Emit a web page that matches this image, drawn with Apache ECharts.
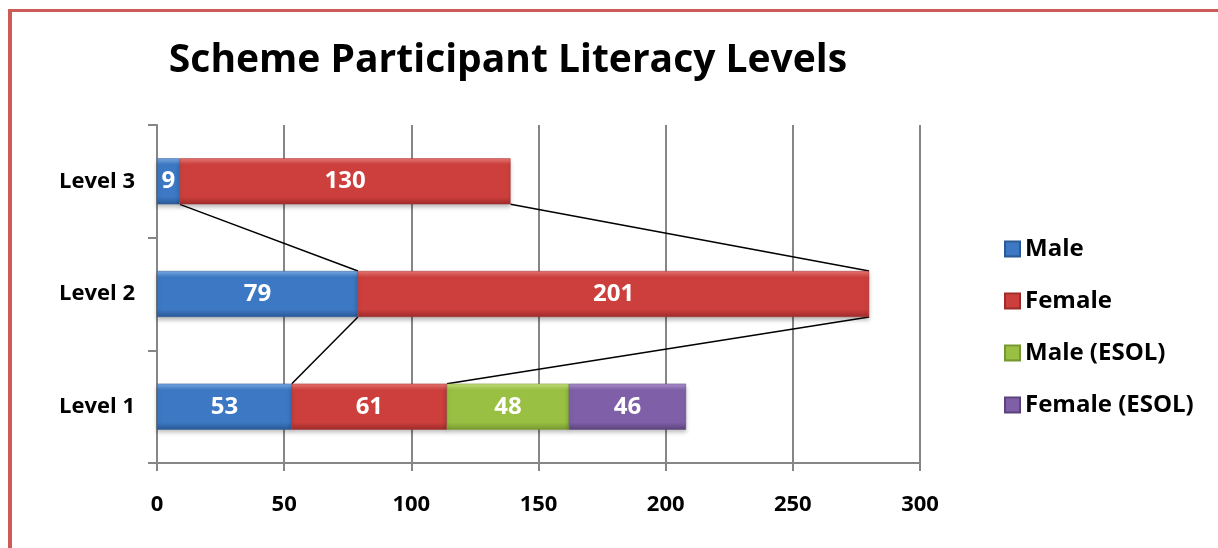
<!DOCTYPE html>
<html>
<head>
<meta charset="utf-8">
<script src="https://cdn.jsdelivr.net/npm/echarts@6/dist/echarts.min.js"></script>
<style>
  html, body { margin: 0; padding: 0; background: #fff; }
  #chart { width: 1218px; height: 548px; }
</style>
</head>
<body>
<div id="chart"></div>
<script>
// Participant counts by literacy level (bottom to top on the axis)
const categories = ['Level 1', 'Level 2', 'Level 3'];
const seriesNames = ['Male', 'Female', 'Male (ESOL)', 'Female (ESOL)'];
const male = [53, 79, 9];
const female = [61, 201, 130];
const maleEsol = [48, null, null];
const femaleEsol = [46, null, null];
const xTicks = [0, 50, 100, 150, 200, 250, 300];

const values = [male, female, maleEsol, femaleEsol];
const palette = [
  ['#79abe6', '#3c78c3', '#2a5996'],
  ['#ea7774', '#cc3f3c', '#9e2c2a'],
  ['#c6e27e', '#99c043', '#769830'],
  ['#ad92d0', '#7f60a8', '#5c437b']
];

function bevel(c) {
  return new echarts.graphic.LinearGradient(0, 0, 0, 1, [
    { offset: 0, color: c[0] },
    { offset: 0.14, color: c[1] },
    { offset: 0.84, color: c[1] },
    { offset: 1, color: c[2] }
  ]);
}

// Series lines: join the end of each stacked segment between neighbouring levels
const joinLines = [];
for (let i = 0; i < categories.length - 1; i++) {
  let lo = 0, hi = 0;
  for (let s = 0; s < values.length; s++) {
    const a = values[s][i], b = values[s][i + 1];
    if (a != null) lo += a;
    if (b != null) hi += b;
    if (a != null && b != null) joinLines.push([lo, i, hi, i + 1]);
  }
}

const BAR_W = 46;
const FONT = '"Open Sans", "Noto Sans", sans-serif';

const barSeries = seriesNames.map((name, s) => ({
  name: name,
  type: 'bar',
  stack: 'total',
  barWidth: BAR_W,
  data: values[s],
  itemStyle: {
    color: bevel(palette[s]),
    borderColor: palette[s][2],
    borderWidth: 0.5,
    shadowColor: 'rgba(0,0,0,0.25)',
    shadowBlur: 4,
    shadowOffsetY: 3
  },
  label: {
    show: true,
    position: 'inside',
    color: '#ffffff',
    fontFamily: FONT,
    fontWeight: 'bold',
    fontSize: 24
  },
  z: 3
}));

const chart = echarts.init(document.getElementById('chart'));
chart.setOption({
  animation: false,
  backgroundColor: '#ffffff',
  title: {
    text: 'Scheme Participant Literacy Levels',
    left: 503,
    textAlign: 'center',
    top: 36,
    textStyle: { fontFamily: FONT, fontWeight: 'bold', fontSize: 39, color: '#000' }
  },
  graphic: [
    { type: 'rect', left: 8, top: 9, shape: { width: 4, height: 539 }, style: { fill: '#cd5b58' } },
    { type: 'rect', left: 8, top: 9, shape: { width: 1210, height: 3 }, style: { fill: '#cd5b58' } }
  ],
  legend: {
    orient: 'vertical',
    left: 999,
    top: 232,
    itemWidth: 15,
    itemHeight: 15,
    itemGap: 28,
    icon: 'rect',
    textStyle: { fontFamily: FONT, fontWeight: 'bold', fontSize: 24, color: '#000' },
    data: seriesNames
  },
  grid: { left: 157, right: 298, top: 125, bottom: 85, containLabel: false },
  xAxis: {
    type: 'value',
    min: xTicks[0],
    max: xTicks[xTicks.length - 1],
    interval: 50,
    axisLine: { show: true, lineStyle: { color: '#868686', width: 2 } },
    axisTick: { show: true, length: 8, lineStyle: { color: '#868686', width: 2 } },
    splitLine: { show: true, lineStyle: { color: '#868686', width: 2 } },
    axisLabel: {
      margin: 31,
      color: '#000',
      fontFamily: FONT,
      fontWeight: 'bold',
      fontSize: 22
    }
  },
  yAxis: {
    type: 'category',
    data: categories,
    axisLine: { show: true, lineStyle: { color: '#868686', width: 2 } },
    axisTick: { show: true, length: 9, inside: false, lineStyle: { color: '#868686', width: 2 } },
    axisLabel: {
      margin: 22,
      color: '#000',
      fontFamily: FONT,
      fontWeight: 'bold',
      fontSize: 22
    }
  },
  series: barSeries.concat([{
    type: 'custom',
    name: 'joins',
    data: joinLines,
    encode: { x: [0, 2], y: [1, 3] },
    z: 2,
    silent: true,
    renderItem: function (params, api) {
      const p1 = api.coord([api.value(0), api.value(1)]);
      const p2 = api.coord([api.value(2), api.value(3)]);
      return {
        type: 'line',
        shape: { x1: p1[0], y1: p1[1] - BAR_W / 2, x2: p2[0], y2: p2[1] + BAR_W / 2 },
        style: { stroke: '#000', lineWidth: 1.5 }
      };
    }
  }])
});
</script>
</body>
</html>
